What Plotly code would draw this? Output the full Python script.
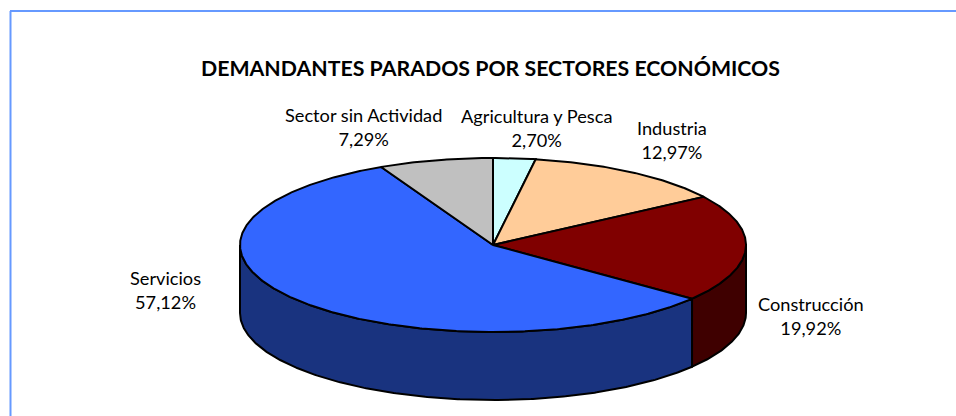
import numpy as np
import plotly.graph_objects as go

categories = ["Agricultura y Pesca", "Industria", "Construcción", "Servicios", "Sector sin Actividad"]
shares = [2.70, 12.97, 19.92, 57.12, 7.29]
share_labels = ["2,70%", "12,97%", "19,92%", "57,12%", "7,29%"]
top_colors = ["#CCFFFF", "#FFCC99", "#800000", "#3366FF", "#C0C0C0"]
side_colors = ["#667F7F", "#7F664C", "#3F0000", "#19337F", "#606060"]
label_x = [536, 672, 810.5, 165, 363]
label_y = [128, 140, 316, 290, 127]
title_text = "DEMANDANTES PARADOS POR SECTORES ECONÓMICOS"

CX, CY, RX, RY, DEPTH = 493, 245, 253, 87, 68
W, H = 956, 416
FONT = "Lato"


def rim(a0, a1):
    t = np.radians(np.linspace(a0, a1, max(int(abs(a1 - a0)) * 2, 2) + 1))
    return CX + RX * np.sin(t), CY - RY * np.cos(t)


fig = go.Figure()
edges = np.concatenate([[0], np.cumsum(shares)]) / sum(shares) * 360

# walls: only the part of each slice facing the viewer (90..270 degrees)
for i in range(len(shares)):
    a0, a1 = max(edges[i], 90), min(edges[i + 1], 270)
    if a1 <= a0:
        continue
    x, y = rim(a0, a1)
    fig.add_trace(go.Scatter(
        x=np.concatenate([x, x[::-1], x[:1]]),
        y=np.concatenate([y, y[::-1] + DEPTH, y[:1]]),
        mode="lines", fill="toself", fillcolor=side_colors[i],
        line=dict(color="black", width=2), hoverinfo="skip", showlegend=False))

# top faces
for i in range(len(shares)):
    x, y = rim(edges[i], edges[i + 1])
    fig.add_trace(go.Scatter(
        x=np.concatenate([[CX], x, [CX]]),
        y=np.concatenate([[CY], y, [CY]]),
        mode="lines", fill="toself", fillcolor=top_colors[i],
        line=dict(color="black", width=2), name=categories[i],
        hoverinfo="name", showlegend=False))

for name, pct, lx, ly in zip(categories, share_labels, label_x, label_y):
    fig.add_annotation(x=lx, y=ly, text=f"{name}<br>{pct}", showarrow=False,
                       xanchor="center", yanchor="middle", align="center",
                       font=dict(family=FONT, size=18.2, color="black"))

fig.add_annotation(x=490.5, y=68, text=f"<b>{title_text}</b>", showarrow=False,
                   xanchor="center", yanchor="middle",
                   font=dict(family=FONT, size=21.3, color="black"))

frame = dict(color="#6699FF", width=2)
fig.add_shape(type="line", xref="x", yref="y", x0=10.5, x1=10.5, y0=11, y1=H, line=frame)
fig.add_shape(type="line", xref="x", yref="y", x0=10, x1=W, y0=11, y1=11, line=frame)

fig.update_xaxes(range=[0, W], visible=False, fixedrange=True)
fig.update_yaxes(range=[H, 0], visible=False, fixedrange=True)
fig.update_layout(width=W, height=H, margin=dict(l=0, r=0, t=0, b=0),
                  paper_bgcolor="white", plot_bgcolor="white", showlegend=False)
fig.write_html("out.html", config={"displayModeBar": False},
               post_script="document.body.style.margin='0';document.body.style.overflow='hidden';")
